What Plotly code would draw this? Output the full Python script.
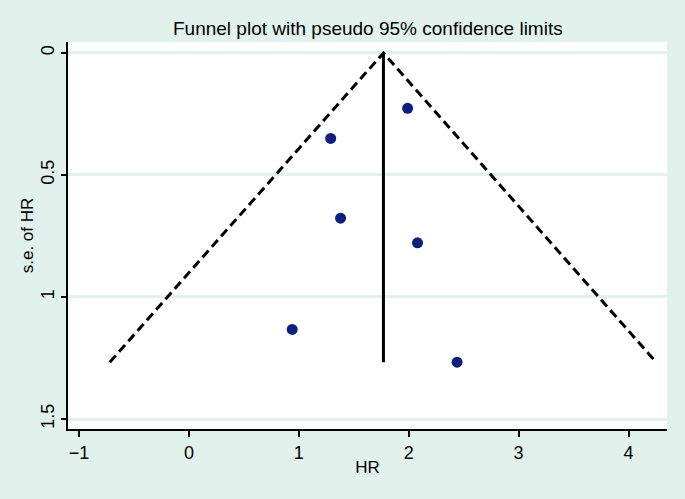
import plotly.graph_objects as go

# Study estimates (HR) and their standard errors
hr = [1.99, 1.29, 1.38, 2.08, 0.94, 2.44]
se_hr = [0.227, 0.350, 0.677, 0.778, 1.133, 1.267]

# Pseudo 95% confidence limits and pooled estimate
funnel_x = [-0.72, 1.77, 4.25]
funnel_se = [1.267, 0.0, 1.267]
pooled_x = [1.77, 1.77]
pooled_se = [0.0, 1.267]

x_ticks = [-1, 0, 1, 2, 3, 4]
y_ticks = [0, 0.5, 1, 1.5]

bg = "#E1F2EC"
font = "Liberation Sans, Arial, sans-serif"

fig = go.Figure()

fig.add_trace(go.Scatter(
    x=funnel_x, y=funnel_se, mode="lines",
    line=dict(color="black", width=3, dash="9px,5px"),
    hoverinfo="skip", showlegend=False
))
fig.add_trace(go.Scatter(
    x=pooled_x, y=pooled_se, mode="lines",
    line=dict(color="black", width=3),
    hoverinfo="skip", showlegend=False
))
fig.add_trace(go.Scatter(
    x=hr, y=se_hr, mode="markers",
    marker=dict(color="#0A1F80", size=11),
    showlegend=False
))

fig.update_layout(
    width=685, height=499,
    paper_bgcolor=bg, plot_bgcolor="white",
    margin=dict(l=68, r=18, t=42, b=70),
    font=dict(family=font, size=17, color="black"),
    title=dict(
        text="Funnel plot with pseudo 95% confidence limits",
        x=0.537, xanchor="center", xref="container",
        y=1 - 28 / 499, yanchor="middle", yref="container",
        font=dict(size=19)
    ),
    xaxis=dict(
        range=[-1.1, 4.35], tickvals=x_ticks, tickfont=dict(size=18),
        showgrid=False, zeroline=False, automargin=False,
        showline=True, linecolor="black", linewidth=2,
        ticks="outside", ticklen=6, tickwidth=2, tickcolor="black",
        title=dict(text="HR", standoff=0, font=dict(size=17))
    ),
    yaxis=dict(
        range=[1.541, -0.045], tickvals=y_ticks, ticktext=["0", "0.5", "1", "1.5"],
        tickangle=-90, automargin=False, tickfont=dict(size=18),
        showgrid=True, gridcolor=bg, gridwidth=3, zeroline=False,
        showline=True, linecolor="black", linewidth=2,
        ticks="outside", ticklen=5, tickwidth=2, tickcolor="black",
        title=dict(text="s.e. of HR", standoff=0, font=dict(size=17))
    )
)

fig.write_html("out.html", config={"displayModeBar": False},
               post_script="document.body.style.margin='0';")
